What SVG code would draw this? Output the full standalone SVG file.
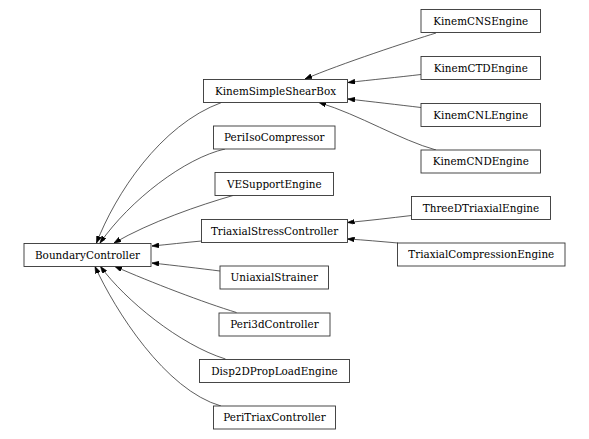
<svg xmlns="http://www.w3.org/2000/svg" width="589" height="439" viewBox="0 0 589 439">
<style>
.n rect{fill:#fff;stroke:#333;stroke-width:0.9}
.n text{font-family:"DejaVu Serif","Liberation Serif",serif;font-size:10.4px;fill:#000;text-anchor:middle}
#edges path{fill:none;stroke:#333;stroke-width:0.8;marker-end:url(#ah)}
</style>
<defs>
<marker id="ah" viewBox="0 0 7 5" refX="7" refY="2.5" markerWidth="7" markerHeight="5" markerUnits="userSpaceOnUse" orient="auto">
<path d="M0,0 L7,2.5 L0,5 z" fill="#000" stroke="#000" stroke-width="0.6"/>
</marker>
</defs>
<rect width="589" height="439" fill="#fff"/>
<g id="edges">
<path d="M221.5,102.5 C160,125 115,195 96.5,243"/>
<path d="M225,149 C185,158 130,200 100,243"/>
<path d="M233,195.5 C200,205 150,222 114,243"/>
<path d="M201.5,241 C185,242.5 168,244.5 152,246"/>
<path d="M220,271 C200,268.5 175,265.5 152,263"/>
<path d="M236.5,312.5 C205,303 150,282 115,266.5"/>
<path d="M225.5,359 C180,345 125,300 100.5,266.5"/>
<path d="M221,406 C165,390 115,310 95,266.5"/>
<path d="M436,33 C410,41 340,64 305,79"/>
<path d="M421,74.5 C400,77 370,80 348,82.5"/>
<path d="M421,107.5 C400,105 370,101.5 348,99"/>
<path d="M436,150 C400,140 360,115 319,102.5"/>
<path d="M411.5,215.5 C390,218 370,220.5 347.5,222.5"/>
<path d="M398,243 C380,241.5 365,240 347.5,239"/>
</g>
<g id="KinemCNSEngine" class="n"><rect x="421" y="9.5" width="119.5" height="23"/><text x="480.75" y="24.5">KinemCNSEngine</text></g>
<g id="KinemCTDEngine" class="n"><rect x="421" y="56.5" width="119.5" height="23"/><text x="480.75" y="71.5">KinemCTDEngine</text></g>
<g id="KinemCNLEngine" class="n"><rect x="421" y="103.5" width="119.5" height="23"/><text x="480.75" y="118.5">KinemCNLEngine</text></g>
<g id="KinemCNDEngine" class="n"><rect x="421" y="150" width="119.5" height="23"/><text x="480.75" y="165">KinemCNDEngine</text></g>
<g id="KinemSimpleShearBox" class="n"><rect x="203.5" y="79.5" width="144" height="23"/><text x="275.5" y="94.5">KinemSimpleShearBox</text></g>
<g id="PeriIsoCompressor" class="n"><rect x="213.5" y="126" width="121.5" height="23"/><text x="274.25" y="141">PeriIsoCompressor</text></g>
<g id="VESupportEngine" class="n"><rect x="215" y="172.5" width="118.5" height="23"/><text x="274.25" y="187.5">VESupportEngine</text></g>
<g id="TriaxialStressController" class="n"><rect x="201.5" y="219.5" width="146" height="23"/><text x="274.5" y="234.5">TriaxialStressController</text></g>
<g id="ThreeDTriaxialEngine" class="n"><rect x="411.5" y="196.5" width="139" height="23"/><text x="481" y="211.5">ThreeDTriaxialEngine</text></g>
<g id="TriaxialCompressionEngine" class="n"><rect x="397.5" y="243" width="167.5" height="23"/><text x="481.25" y="258">TriaxialCompressionEngine</text></g>
<g id="BoundaryController" class="n"><rect x="24" y="243.5" width="127" height="23"/><text x="87.5" y="258.5">BoundaryController</text></g>
<g id="UniaxialStrainer" class="n"><rect x="220" y="266" width="108.5" height="23"/><text x="274.25" y="281">UniaxialStrainer</text></g>
<g id="Peri3dController" class="n"><rect x="219" y="313" width="111" height="23"/><text x="274.5" y="328">Peri3dController</text></g>
<g id="Disp2DPropLoadEngine" class="n"><rect x="199.5" y="359.5" width="150" height="23"/><text x="274.5" y="374.5">Disp2DPropLoadEngine</text></g>
<g id="PeriTriaxController" class="n"><rect x="213.5" y="406" width="122" height="23"/><text x="274.5" y="421">PeriTriaxController</text></g>
</svg>
